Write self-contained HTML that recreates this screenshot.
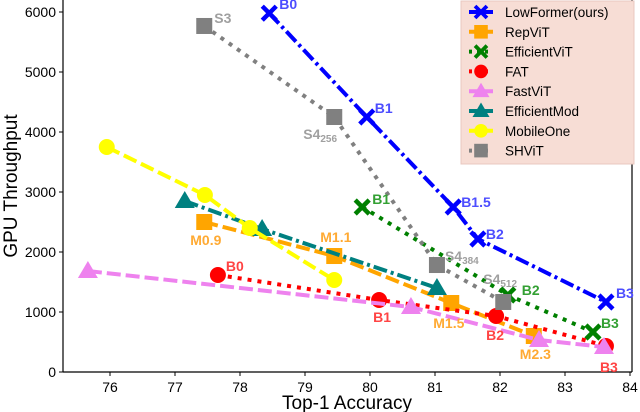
<!DOCTYPE html>
<html><head><meta charset="utf-8"><style>
body{margin:0;background:#fff}
svg{display:block;font-family:"Liberation Sans","DejaVu Sans",sans-serif}
</style></head><body>
<svg id="chart" width="640" height="412" viewBox="0 0 640 412"></svg>
<script>
const seriesNames=["LowFormer(ours)","RepViT","EfficientViT","FAT","FastViT","EfficientMod","MobileOne","SHViT"];
const accLow=[78.45,79.95,81.28,81.66,83.63], thrLow=[5980,4250,2750,2217,1167], lblLow=["B0","B1","B1.5","B2","B3"];
const accRep=[77.45,79.45,81.25,82.52], thrRep=[2500,1933,1150,600], lblRep=["M0.9","M1.1","M1.5","M2.3"];
const accEff=[79.88,82.12,83.43], thrEff=[2750,1283,667], lblEff=["B1","B2","B3"];
const accFat=[77.66,80.14,81.94,83.63], thrFat=[1617,1200,933,433], lblFat=["B0","B1","B2","B3"];
const accFast=[75.66,80.63,82.6,83.6], thrFast=[1683,1083,533,417];
const accMod=[77.15,78.34,81.03], thrMod=[2850,2383,1400];
const accMob=[75.95,77.46,78.15,79.45], thrMob=[3750,2950,2400,1533];
const accSh=[77.45,79.45,81.03,82.05], thrSh=[5767,4250,1783,1167], lblSh=["S3","S4|256","S4|384","S4|512"];
const xTicks=[76,77,78,79,80,81,82,83,84];
const yTicks=[0,1000,2000,3000,4000,5000,6000];

const NS="http://www.w3.org/2000/svg";
const svg=document.getElementById('chart');
const X=v=>110+(v-76)*65, Y=v=>372-v*0.06;
function el(t,a,p){const e=document.createElementNS(NS,t);for(const k in a)e.setAttribute(k,a[k]);(p||svg).appendChild(e);return e;}
let ax=el('line',{x1:63,y1:372,x2:632,y2:372,stroke:'#000','stroke-width':1.2});

ax=el('line',{x1:63,y1:0,x2:63,y2:372,stroke:'#000','stroke-width':1.2});

ax=el('line',{x1:632,y1:0,x2:632,y2:372,stroke:'#000','stroke-width':1.2});

xTicks.forEach(t=>{el('line',{x1:X(t),x2:X(t),y1:372,y2:376,stroke:'#000'});
 const tx=el('text',{x:X(t),y:392,'text-anchor':'middle','font-size':14});tx.textContent=t;
 });
yTicks.forEach(t=>{el('line',{x1:59,x2:63,y1:Y(t),y2:Y(t),stroke:'#000'});
 const tx=el('text',{x:56,y:Y(t)+5,'text-anchor':'end','font-size':14});tx.textContent=t;
 });
let t=el('text',{x:347,y:409,'text-anchor':'middle','font-size':19});t.textContent='Top-1 Accuracy';

t=el('text',{x:17,y:186,'text-anchor':'middle','font-size':19,transform:'rotate(-90 17 186)'});t.textContent='GPU Throughput';


function marker(g,type,x,y,c,s){
 s=s||1;
 if(type==='x'){el('path',{d:`M${x-7*s} ${y-7*s}L${x+7*s} ${y+7*s}M${x-7*s} ${y+7*s}L${x+7*s} ${y-7*s}`,stroke:c,'stroke-width':4.5*s,fill:'none'},g);}
 else if(type==='s'){el('rect',{x:x-8*s,y:y-8*s,width:16*s,height:16*s,fill:c},g);}
 else if(type==='o'){el('circle',{cx:x,cy:y,r:8*s,fill:c},g);}
 else if(type==='^'){el('path',{d:`M${x} ${y-10*s}L${x+10*s} ${y+7*s}L${x-10*s} ${y+7*s}Z`,fill:c},g);}
}
const defs=[
 {n:'lowformer',ax:accLow,th:thrLow,c:'#0000ff',m:'x',dash:'14 4 3 4',w:4},
 {n:'repvit',ax:accRep,th:thrRep,c:'#ffa500',m:'s',dash:'14 5',w:4},
 {n:'efficientvit',ax:accEff,th:thrEff,c:'#008000',m:'x',dash:'4 6',w:4},
 {n:'fat',ax:accFat,th:thrFat,c:'#ff0000',m:'o',dash:'4 6',w:4},
 {n:'fastvit',ax:accFast,th:thrFast,c:'#ee82ee',m:'^',dash:'14 5',w:4},
 {n:'efficientmod',ax:accMod,th:thrMod,c:'#008080',m:'^',dash:'14 4 3 4',w:4},
 {n:'mobileone',ax:accMob,th:thrMob,c:'#ffff00',m:'o',dash:'14 5',w:4},
 {n:'shvit',ax:accSh,th:thrSh,c:'#808080',m:'s',dash:'4 6',w:4}];
defs.forEach(d=>{
 const g=el('g',{});
 
 
 el('polyline',{points:d.ax.map((a,i)=>X(a)+','+Y(d.th[i])).join(' '),fill:'none',stroke:d.c,'stroke-width':d.w,'stroke-dasharray':d.dash},g);
 d.ax.forEach((a,i)=>marker(g,d.m,X(a),Y(d.th[i]),d.c));
});
function lbl(x,y,s,c,sub){const tx=el('text',{x:x,y:y,fill:c,'font-size':14,'font-weight':'bold'});
 
 if(sub){const p=s.split('|');tx.textContent=p[0];const ts=el('tspan',{'font-size':10,dy:3},tx);ts.textContent=p[1];}else tx.textContent=s;}
const lowOff=[[10,-4],[8,-4],[8,0],[8,0],[10,-4]];
accLow.forEach((a,i)=>lbl(X(a)+lowOff[i][0],Y(thrLow[i])+lowOff[i][1],lblLow[i],'#4d4dff'));
const repOff=[[-14,23],[-14,-14],[-18,25],[-14,23]];
accRep.forEach((a,i)=>lbl(X(a)+repOff[i][0],Y(thrRep[i])+repOff[i][1],lblRep[i],'#ffaa33'));
const effOff=[[10,-3],[14,0],[8,-4]];
accEff.forEach((a,i)=>lbl(X(a)+effOff[i][0],Y(thrEff[i])+effOff[i][1],lblEff[i],'#33a033'));
const fatOff=[[8,-4],[-6,22],[-10,24],[-6,26]];
accFat.forEach((a,i)=>lbl(X(a)+fatOff[i][0],Y(thrFat[i])+fatOff[i][1],lblFat[i],'#ff4444'));
const shOff=[[10,-3],[-31,22],[8,-4],[-20,-18]];
accSh.forEach((a,i)=>lbl(X(a)+shOff[i][0],Y(thrSh[i])+shOff[i][1],lblSh[i],'#a0a0a0',i>0));
const lg=el('g',{});


el('rect',{x:461,y:1,width:173,height:163,fill:'#f7ddd5',stroke:'#e8c8c0'},lg);
defs.forEach((d,i)=>{
 const y=12+i*19.8;
 const e=el('g',{},lg);
 
 
 el('line',{x1:469,x2:493,y1:y,y2:y,stroke:d.c,'stroke-width':4,'stroke-dasharray':d.dash==='4 6'?'3 5':'none'},e);
 marker(e,d.m,481,y,d.c,0.85);
 const tx=el('text',{x:505,y:y+5,'font-size':13.5},e);tx.textContent=seriesNames[i];
});
</script>
</body></html>
